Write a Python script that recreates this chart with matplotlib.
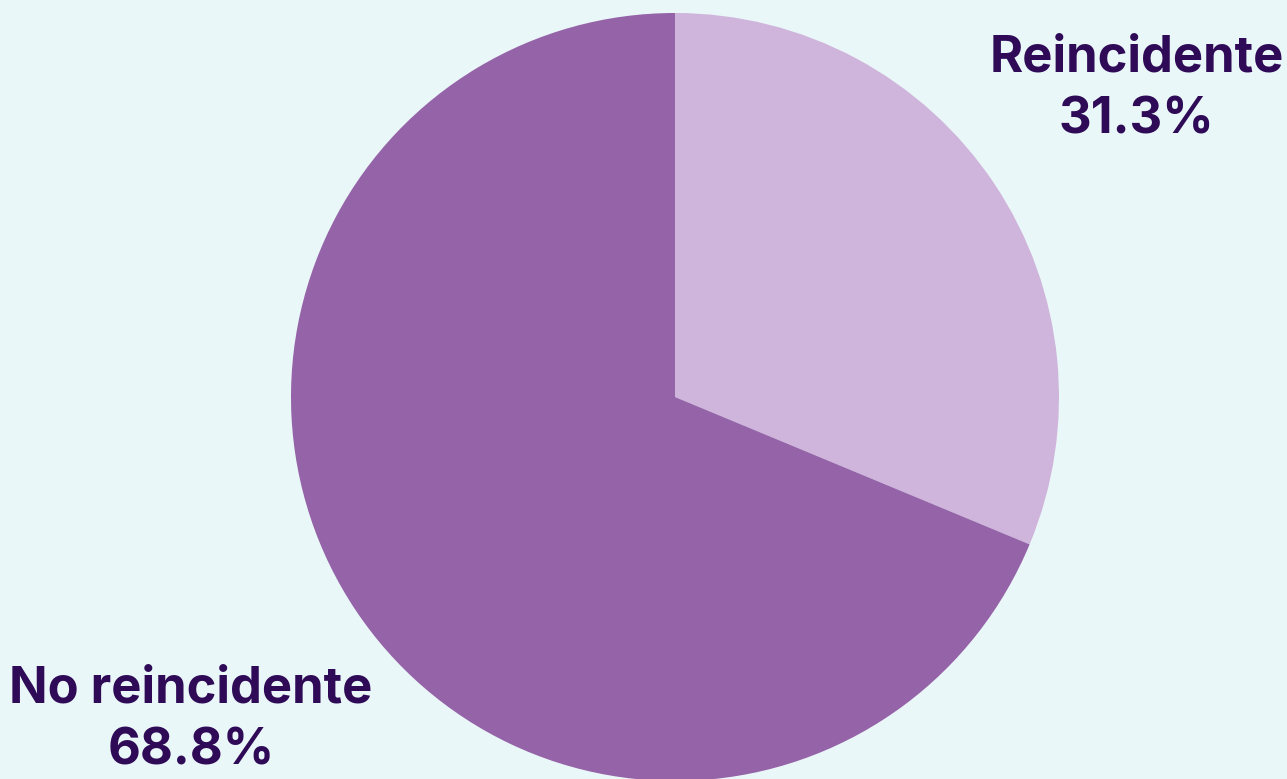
import numpy as np
import matplotlib.pyplot as plt

labels = ["Reincidente", "No reincidente"]
shares = [31.3, 68.8]
colors = ["#cfb5db", "#9563a8"]
label_dist = [1.445, 1.515]

plt.rcParams['font.family'] = ['Inter', 'DejaVu Sans']

W, H = 1287, 779
fig = plt.figure(figsize=(W / 100, H / 100), dpi=100)
fig.patch.set_facecolor("#eaf7f8")
ax = fig.add_axes([0, 0, 1, 1])
ax.set_facecolor("none")

wedges, _ = ax.pie(shares, colors=colors, startangle=90, counterclock=False,
                   radius=1, wedgeprops=dict(linewidth=0))

for w, lab, val, d in zip(wedges, labels, shares, label_dist):
    mid = np.deg2rad((w.theta1 + w.theta2) / 2)
    ax.text(d * np.cos(mid), d * np.sin(mid), f"{lab}\n{val:.1f}%",
            ha="center", va="center", fontsize=36.5, fontweight="bold",
            color="#2e0a57", linespacing=1.4)

# pie centre at (675, 397) px, radius 384 px
r = 384.0
ax.set_aspect("auto")
ax.set_xlim(-675 / r, (W - 675) / r)
ax.set_ylim(-(H - 397) / r, 397 / r)
ax.axis("off")

fig.savefig("out.png", dpi=100, facecolor=fig.get_facecolor())
